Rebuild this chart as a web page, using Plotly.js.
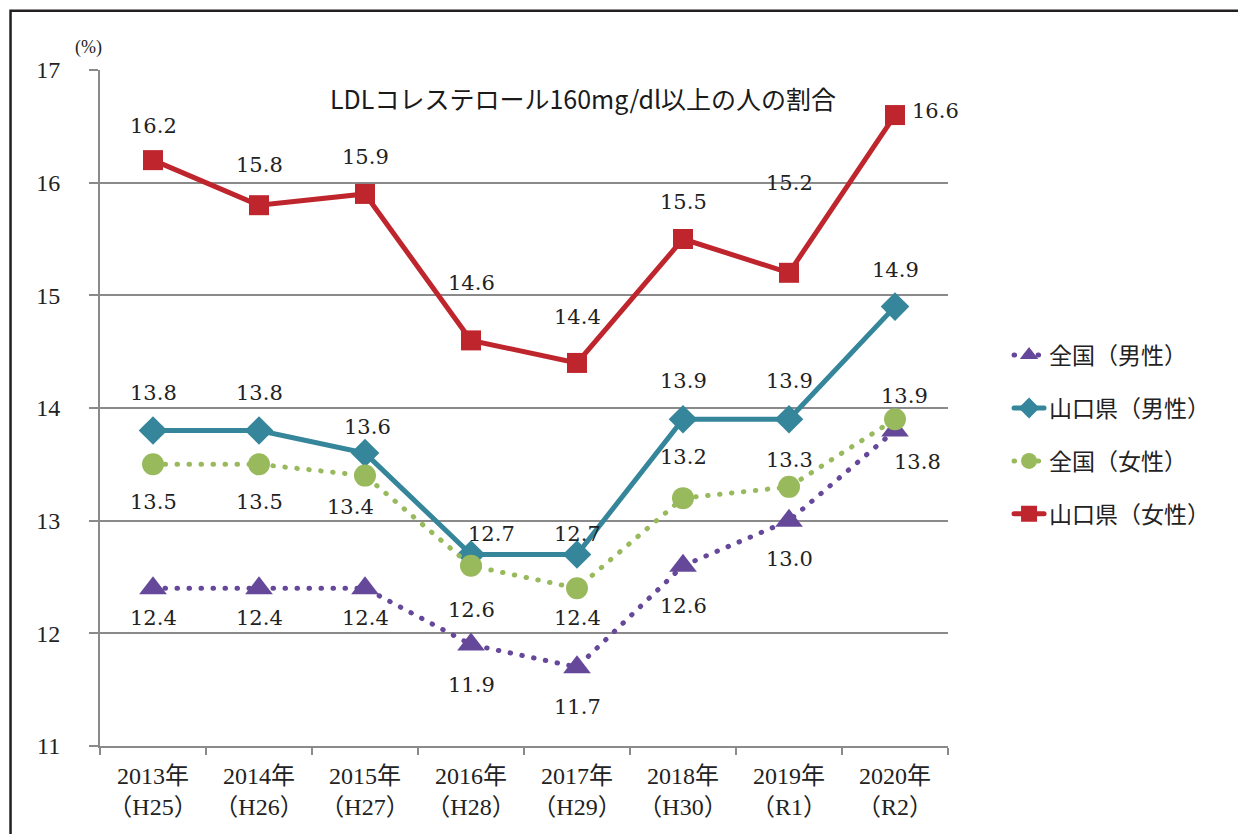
<!DOCTYPE html>
<html>
<head>
<meta charset="utf-8">
<script src="https://cdn.plot.ly/plotly-3.0.1.min.js"></script>
<style>
html,body{margin:0;padding:0;background:#fff;}
#chart{width:1238px;height:834px;}
path.js-line{stroke-linecap:round !important;}
</style>
</head>
<body>
<div id="chart"></div>
<script>
const categories = ["2013年<br>（H25）","2014年<br>（H26）","2015年<br>（H27）","2016年<br>（H28）","2017年<br>（H29）","2018年<br>（H30）","2019年<br>（R1）","2020年<br>（R2）"];
const seriesNames = ["全国（男性）","山口県（男性）","全国（女性）","山口県（女性）"];
const nationalMale = [12.4, 12.4, 12.4, 11.9, 11.7, 12.6, 13.0, 13.8];
const yamaguchiMale = [13.8, 13.8, 13.6, 12.7, 12.7, 13.9, 13.9, 14.9];
const nationalFemale = [13.5, 13.5, 13.4, 12.6, 12.4, 13.2, 13.3, 13.9];
const yamaguchiFemale = [16.2, 15.8, 15.9, 14.6, 14.4, 15.5, 15.2, 16.6];
const chartTitle = "LDLコレステロール160mg/dl以上の人の割合";

// label placement (pixel offsets from each point: [dx, dy], dy positive = down)
const placeNationalMale = [[0,30],[0,30],[0,30],[0,40],[0,40],[0,40],[0,38],[22,31]];
const placeYamaguchiMale = [[0,-38],[0,-38],[2,-26],[20,-20],[0,-20],[0,-38],[0,-38],[0,-37]];
const placeNationalFemale = [[0,38],[0,38],[-15,31],[0,44],[0,30],[0,-41],[0,-27],[9,-23]];
const placeYamaguchiFemale = [[0,-34],[0,-40],[0,-37],[0,-57],[0,-46],[0,-37],[0,-90],[40,-4]];

const labelFont = {family: "'DejaVu Serif', 'Liberation Serif', serif", size: 21, color: "#222"};
const fmt = v => v.toFixed(1);

function trace(name, y, color, symbol, msize, dash, group) {
  return {
    type: "scatter", mode: "lines+markers",
    name: name, x: categories, y: y,
    line: {color: color, width: 5, dash: dash},
    marker: {color: color, symbol: symbol, size: msize},
    legendgroup: group, cliponaxis: false, hoverinfo: "skip"
  };
}

const data = [
  trace(seriesNames[0], nationalMale, "#66489B", "triangle-up", 24, "0.5px,11.5px", "g1"),
  trace(seriesNames[1], yamaguchiMale, "#35869A", "diamond", 22, "solid", "g2"),
  trace(seriesNames[2], nationalFemale, "#98BA5C", "circle", 22, "0.5px,11.5px", "g3"),
  trace(seriesNames[3], yamaguchiFemale, "#BF252D", "square", 20, "solid", "g4")
];

function labels(y, place) {
  return y.map((v, i) => ({
    x: categories[i], y: v, xref: "x", yref: "y",
    text: fmt(v), showarrow: false,
    xanchor: "center", yanchor: "middle",
    xshift: place[i][0], yshift: -place[i][1],
    font: labelFont
  }));
}

const annotations = [].concat(
  labels(nationalMale, placeNationalMale),
  labels(yamaguchiMale, placeYamaguchiMale),
  labels(nationalFemale, placeNationalFemale),
  labels(yamaguchiFemale, placeYamaguchiFemale),
  [{
    text: "(%)", xref: "paper", yref: "paper", x: -0.014, y: 1.034,
    xanchor: "center", yanchor: "middle", showarrow: false,
    font: {family: "'Liberation Serif', serif", size: 18, color: "#222"}
  }]
);

const layout = {
  width: 1238, height: 834,
  margin: {l: 100, r: 290, t: 70, b: 88},
  paper_bgcolor: "#fff", plot_bgcolor: "#fff",
  showlegend: true,
  title: {
    text: chartTitle,
    font: {family: "'Noto Sans CJK JP', sans-serif", size: 25, color: "#1a1a1a"},
    x: 0.471, xref: "container", xanchor: "center",
    y: 0.88, yref: "container", yanchor: "middle"
  },
  xaxis: {
    type: "category",
    range: [-0.5, 7.5],
    showgrid: false, zeroline: false,
    showline: true, linecolor: "#8a8a8a", linewidth: 2,
    ticks: "outside", tickson: "boundaries", ticklen: 7, tickcolor: "#8a8a8a", tickwidth: 2,
    tickangle: 0,
    tickfont: {family: "'Liberation Serif', 'Noto Sans CJK JP', serif", size: 24, color: "#222"},
    ticklabelstandoff: 7
  },
  yaxis: {
    range: [11, 17], dtick: 1, tick0: 11,
    showgrid: true, gridcolor: "#8a8a8a", gridwidth: 2,
    zeroline: false,
    showline: true, linecolor: "#8a8a8a", linewidth: 2,
    ticks: "outside", ticklen: 9, tickcolor: "#8a8a8a", tickwidth: 2,
    tickfont: {family: "'Liberation Serif', serif", size: 24, color: "#222"},
    ticklabelstandoff: 24
  },
  legend: {
    x: 1.072, xanchor: "left", y: 0.61, yanchor: "top",
    font: {family: "'Liberation Serif', 'Noto Sans CJK JP', serif", size: 23, color: "#222"},
    tracegroupgap: 20, bgcolor: "rgba(0,0,0,0)"
  },
  annotations: annotations,
  shapes: [{
    type: "rect", xref: "paper", yref: "paper",
    x0: -0.1055, x1: 1.36, y0: -0.16, y1: 1.0875,
    line: {color: "#231f20", width: 2.5}, fillcolor: "rgba(0,0,0,0)", layer: "above"
  }]
};

Plotly.newPlot("chart", data, layout, {staticPlot: true, displayModeBar: false});
</script>
</body>
</html>
